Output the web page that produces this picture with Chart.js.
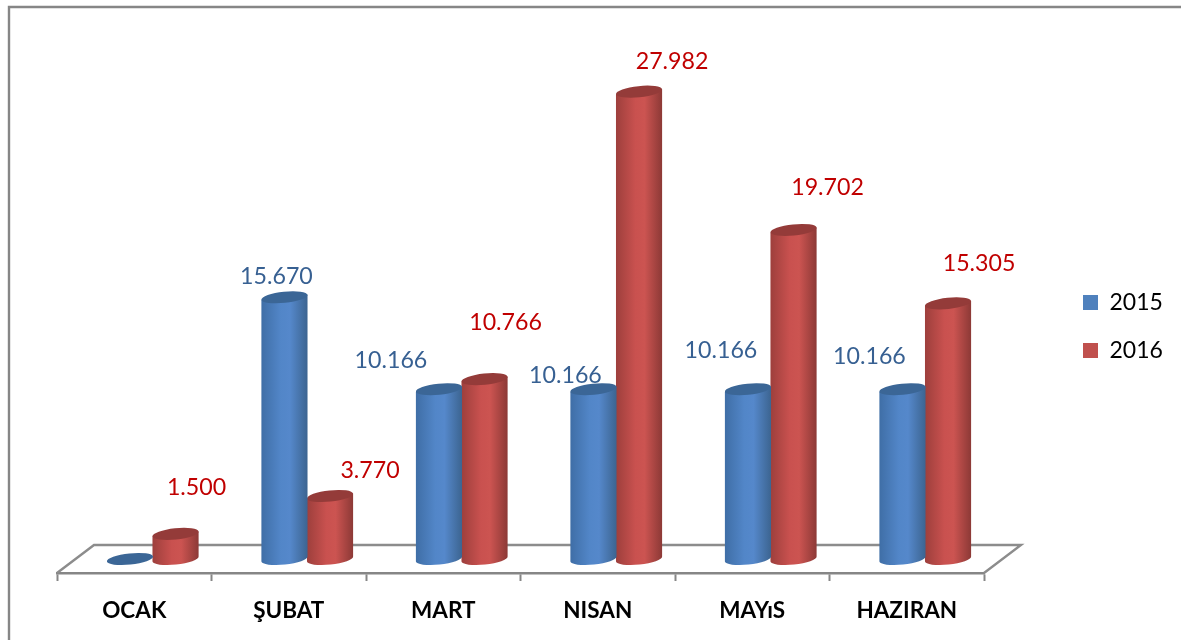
<!DOCTYPE html>
<html><head><meta charset="utf-8">
<style>html,body{margin:0;padding:0;background:#fff}#w{width:1181px;height:640px;position:relative}</style>
<script src="https://cdn.jsdelivr.net/npm/chart.js@4/dist/chart.umd.min.js"></script>
</head><body><div id="w"><canvas id="c" width="1181" height="640"></canvas></div>
<script>
const categories = ['OCAK', 'ŞUBAT', 'MART', 'NISAN', 'MAYıS', 'HAZIRAN'];
const seriesNames = ['2015', '2016'];
const values2015 = [0, 15670, 10166, 10166, 10166, 10166];
const values2016 = [1500, 3770, 10766, 27982, 19702, 15305];

// Layout only: hand-placed label offsets from each cylinder's top, as in the reference
const labelShift2015 = [null, [-8, -21], [-48, -29], [-28, -14], [-27, -39], [-33, -33]];
const labelShift2016 = [[21, -46], [40, -25], [21, -57], [33, -30], [34, -42], [31, -40]];
const FONT = 'Lato, "Open Sans", sans-serif';
const GREY = '#868686';
const DEPTH_X = 18.5, FLOOR_DEPTH_Y = 28;

const looks = [
  {top:'#3b6696', stops:['#3f6ea6','#5286c8','#5588cb','#3c6490'], label:'#376092'},
  {top:'#943b39', stops:['#9d3f3c','#c9514f','#cc5451','#8c3936'], label:'#C00000'}
];

function cylinder(ctx, cx, yTop, yBase, rx, look){
  const ry = 5.6, rot = -0.105;
  if (yBase - yTop > 0.5) {
    const g = ctx.createLinearGradient(cx-rx,0,cx+rx,0);
    g.addColorStop(0, look.stops[0]); g.addColorStop(.42, look.stops[1]);
    g.addColorStop(.62, look.stops[2]); g.addColorStop(1, look.stops[3]);
    const dy = Math.sin(rot)*rx, dx = Math.cos(rot)*rx;
    ctx.beginPath();
    ctx.ellipse(cx,yBase,rx,ry,rot,0,Math.PI);
    ctx.lineTo(cx-dx,yTop-dy);
    ctx.lineTo(cx+dx,yTop+dy);
    ctx.closePath();
    ctx.fillStyle = g; ctx.fill();
  }
  ctx.beginPath();
  ctx.ellipse(cx,yTop,rx,ry,rot,0,Math.PI*2);
  ctx.fillStyle = look.top; ctx.fill();
}

const scene = {
  id:'scene',
  afterLayout(chart){
    const l = chart.legend;
    const w = l.width, h = l.height;
    l.left = 1058; l.right = l.left + w; l.top = 266; l.bottom = l.top + h;
  },
  beforeDatasetsDraw(chart){
    const {ctx, chartArea:a} = chart;
    ctx.save();
    // frame (left + top only)
    ctx.strokeStyle = GREY; ctx.lineWidth = 2.4;
    ctx.beginPath(); ctx.moveTo(9,640); ctx.lineTo(9,7); ctx.lineTo(1181,7); ctx.stroke();
    // floor: back and side edges
    ctx.strokeStyle = '#8c8c8c'; ctx.lineWidth = 2.4;
    const f = a.bottom, b = a.bottom - FLOOR_DEPTH_Y;
    ctx.beginPath();
    ctx.moveTo(a.left,f); ctx.lineTo(a.left+DEPTH_X*2,b);
    ctx.lineTo(a.right+DEPTH_X*2,b); ctx.lineTo(a.right,f);
    ctx.stroke();
    ctx.restore();
  },
  beforeDatasetDraw(chart, args){
    const {ctx} = chart, look = looks[args.index];
    ctx.save();
    args.meta.data.forEach(bar=>{
      cylinder(ctx, bar.x + DEPTH_X, bar.y, bar.base, bar.width/2 + 0.4, look);
    });
    ctx.restore();
    return false;
  },
  afterDatasetsDraw(chart){
    const {ctx} = chart;
    ctx.save();
    ctx.font = '23.2px ' + FONT;
    ctx.textAlign = 'center'; ctx.textBaseline = 'middle';
    [labelShift2015,labelShift2016].forEach((shift,i)=>{
      const ds = chart.data.datasets[i];
      chart.getDatasetMeta(i).data.forEach((bar,j)=>{
        if(!shift[j]) return;
        ctx.fillStyle = looks[i].label;
        const txt = ds.data[j].toLocaleString('tr-TR');
        ctx.fillText(txt, bar.x + DEPTH_X + shift[j][0], bar.y + shift[j][1]);
      });
    });
    ctx.restore();
  }
};

new Chart(document.getElementById('c'),{
  type:'bar',
  data:{labels:categories,datasets:[
    {label:seriesNames[0],data:values2015,backgroundColor:'#4F81BD'},
    {label:seriesNames[1],data:values2016,backgroundColor:'#C0504D'}
  ]},
  plugins:[scene],
  options:{
    responsive:false,animation:false,
    layout:{padding:{left:57,right:197,top:58,bottom:0}},
    categoryPercentage:.59,barPercentage:1,
    plugins:{
      tooltip:{enabled:false},
      legend:{position:'chartArea',align:'start',
        labels:{boxWidth:15,boxHeight:15,padding:25,color:'#000',font:{family:FONT,size:23}}}
    },
    scales:{
      y:{display:false,min:-840,max:30000},
      x:{
        afterFit(s){s.height=67},
        border:{color:GREY,width:2.4},
        grid:{drawOnChartArea:false,drawTicks:true,tickLength:8,tickColor:GREY,tickWidth:2,offset:true},
        ticks:{color:'#000',padding:16,maxRotation:0,font:{family:FONT,size:22.5,weight:'bold'}}
      }
    }
  }
});
</script></body></html>
